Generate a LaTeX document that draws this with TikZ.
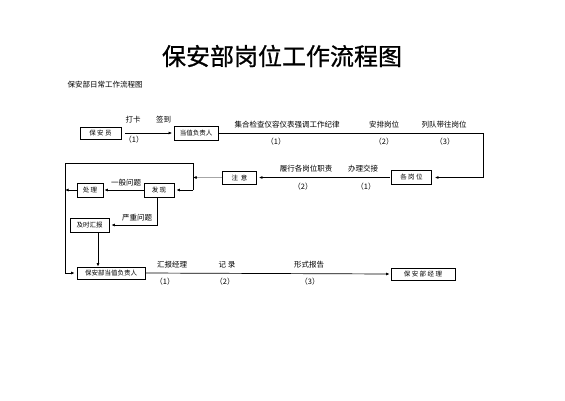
\documentclass[tikz,border=0pt]{standalone}
\usepackage{fontspec}
\setmainfont{Noto Sans CJK SC}
\newfontfamily\titlefont{Noto Sans CJK SC}[FakeBold=0.8]
\usetikzlibrary{arrows.meta}
\begin{document}
\begin{tikzpicture}[x=1pt,y=-1pt,
 box/.style={draw,line width=0.8pt,inner sep=0pt,font=\fontsize{6.5}{7}\selectfont,anchor=center},
 lab/.style={font=\fontsize{7.5}{8}\selectfont,inner sep=0pt},
 con/.style={line width=0.7pt},
 arr/.style={con,-{Latex[length=3.5pt,width=3pt]}}]
\useasboundingbox[fill=white] (0,0) rectangle (565,400);
% titles
\node[font=\fontsize{24}{26}\selectfont\titlefont,inner sep=0pt] (title) at (282,56) {保安部岗位工作流程图};
\node[font=\fontsize{7.5}{8}\selectfont,inner sep=0pt] (sub) at (105,85) {保安部日常工作流程图};
% boxes
\node[box,minimum width=41,minimum height=12] (byy) at (100.5,133) {保\ 安\ 员};
\node[box,minimum width=44,minimum height=14] (dz) at (196,133) {当值负责人};
\node[box,minimum width=40,minimum height=14] (ggw) at (411.5,177.5) {各\ 岗\ 位};
\node[box,minimum width=34,minimum height=13] (zy) at (239.5,177.5) {注\ \ 意};
\node[box,minimum width=30,minimum height=14] (fx) at (159,190) {发\ 现};
\node[box,minimum width=26,minimum height=14] (cl) at (90,190) {处\ 理};
\node[box,minimum width=39,minimum height=14] (js) at (89.5,225) {及时汇报};
\node[box,minimum width=68,minimum height=12] (bbdz) at (111,273) {保安部当值负责人};
\node[box,minimum width=64,minimum height=12] (jl) at (423,274) {保\ 安\ 部\ 经\ 理};
% helper coordinates
\coordinate (c1) at (483,133);
\coordinate (c2) at (483,177.5);
\coordinate (j1) at (193,177.5);
\coordinate (jt) at (193,163);
\coordinate (jb) at (193,190);
\coordinate (l1) at (65,163);
\coordinate (l2) at (65,273);
\coordinate (l3) at (65,190);
\coordinate (f1) at (157,225);
\coordinate (k1) at (98,232);
% connectors
\draw[arr,shorten <=4pt,shorten >=1.5pt] (byy.east) -- (dz.west);
\draw[arr,shorten >=3pt] (dz.east) -- (c1) -- (c2) -- (ggw.east);
\draw[arr,shorten <=1pt,shorten >=2pt] (ggw.west) -- (zy.east);
\draw[con,gray!70] (zy.west) -- (j1);
\draw[arr] ([xshift=4pt]j1) -- (j1);
\draw[con] (jt) -- (jb);
\draw[arr,shorten >=2pt] (jb) -- (fx.east);
\draw[arr,shorten >=2pt] (jt) -- (l1) -- (l2) -- (bbdz.west);
\draw[arr] (cl.west) -- (l3);
\draw[arr,shorten >=1pt] (fx.west) -- (cl.east);
\draw[arr,shorten >=2pt] (fx.south -| f1) -- (f1) -- (js.east);
\draw[arr] (k1) -- (k1 |- bbdz.north);
\draw[arr,shorten >=1pt] (bbdz.east) -- (jl.west);
% labels
\node[lab] (t1) at (133,120) {打卡};
\node[lab] (t2) at (163.5,120) {签到};
\node[lab] (t3) at (134,140) {（1）};
\node[lab] (t4) at (287,125) {集合检查仪容仪表强调工作纪律};
\node[lab] (t5) at (384,125) {安排岗位};
\node[lab] (t6) at (444,125) {列队带往岗位};
\node[lab] (t7) at (276,142) {（1）};
\node[lab] (t8) at (384,142) {（2）};
\node[lab] (t9) at (445,142) {（3）};
\node[lab] (t10) at (306,169) {履行各岗位职责};
\node[lab] (t11) at (363,169) {办理交接};
\node[lab] (t12) at (303,187) {（2）};
\node[lab] (t13) at (366,187) {（1）};
\node[lab] (t14) at (126,183) {一般问题};
\node[lab] (t15) at (137,218) {严重问题};
\node[lab] (t16) at (172,265) {汇报经理};
\node[lab] (t17) at (227,265) {记\ 录};
\node[lab] (t18) at (309,265) {形式报告};
\node[lab] (t19) at (165,282) {（1）};
\node[lab] (t20) at (225,282) {（2）};
\node[lab] (t21) at (310,282) {（3）};
\end{tikzpicture}
\end{document}
